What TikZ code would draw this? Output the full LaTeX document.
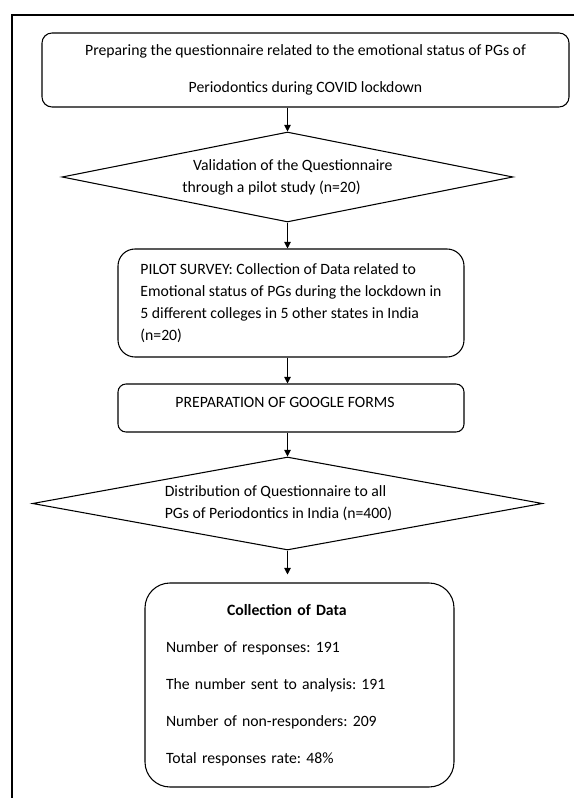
\documentclass[tikz,border=0pt]{standalone}
\usepackage{fontspec}
\setmainfont{Carlito}
\usetikzlibrary{shapes.geometric,arrows.meta}
\frenchspacing

\tikzset{
	procbox/.style={draw, line width=0.8pt, rounded corners=#1, inner sep=0pt},
	procbox/.default=7pt,
	decision/.style={draw, diamond, line width=0.8pt, inner sep=0pt, align=left},
	flow/.style={line width=0.8pt, -{Triangle[length=5pt,width=5pt]}},
	pageframe/.style={line width=1.8pt}
}

\begin{document}
\begin{tikzpicture}[x=0.75pt, y=-0.75pt, font=\fontsize{11.8}{16.5}\selectfont]

	\useasboundingbox (0,0) rectangle (574,798);
	
	\draw[pageframe] (574,15) -| (12,798);

	\node[procbox=7.5pt, minimum width=395.25pt, minimum height=55.5pt, align=center] (prep) at (305.5,70)
		{Preparing the questionnaire related to the emotional status of PGs of\\[11.25pt]
		Periodontics during COVID lockdown};
	
	\node[decision, aspect=5, minimum width=338.25pt, minimum height=67.5pt] (valid) at (287.5,177)
		{\hspace*{8pt}Validation of the Questionnaire\\ through a pilot study (n=20)};
	
	\node[procbox=12.75pt, minimum width=259.5pt, minimum height=81pt, align=left] (pilot) at (291,303)
		{PILOT SURVEY: Collection of Data related to\\
		Emotional status of PGs during the lockdown in\\
		5 different colleges in 5 other states in India\\
		(n=20)};
	
	\node[procbox=6pt, minimum width=259.5pt, minimum height=36pt, text depth=9pt] (forms) at (291,408)
		{PREPARATION OF GOOGLE FORMS\hspace*{9pt}};
	
	\node[decision, aspect=5.5, minimum width=382.5pt, minimum height=69.75pt] (dist) at (287.5,503.5)
		{Distribution of Questionnaire to all\\ PGs of Periodontics in India (n=400)\hspace*{13.5pt}};
	
	\node[procbox=18.75pt, minimum width=231.75pt, minimum height=153pt, text width=200.25pt, inner xsep=15.75pt, align=left] (data) at (299.5,685)
		{\hspace*{45.75pt}\textbf{Collection of Data}\\[11.25pt]
		Number of responses: 191\\[11.25pt]
		The number sent to analysis: 191\\[11.25pt]
		Number of non-responders: 209\\[11.25pt]
		Total responses rate: 48\%};

	\draw[flow] (valid.north |- prep.south) -- (valid.north);
	\draw[flow] (valid.south) -- (valid.south |- pilot.north);
	\draw[flow] (pilot.south -| valid.south) -- (forms.north -| valid.south);
	\draw[flow] (forms.south -| valid.south) -- (dist.north);
	\draw[flow, shorten >=6pt] (dist.south) -- (dist.south |- data.north);

\end{tikzpicture}
\end{document}
